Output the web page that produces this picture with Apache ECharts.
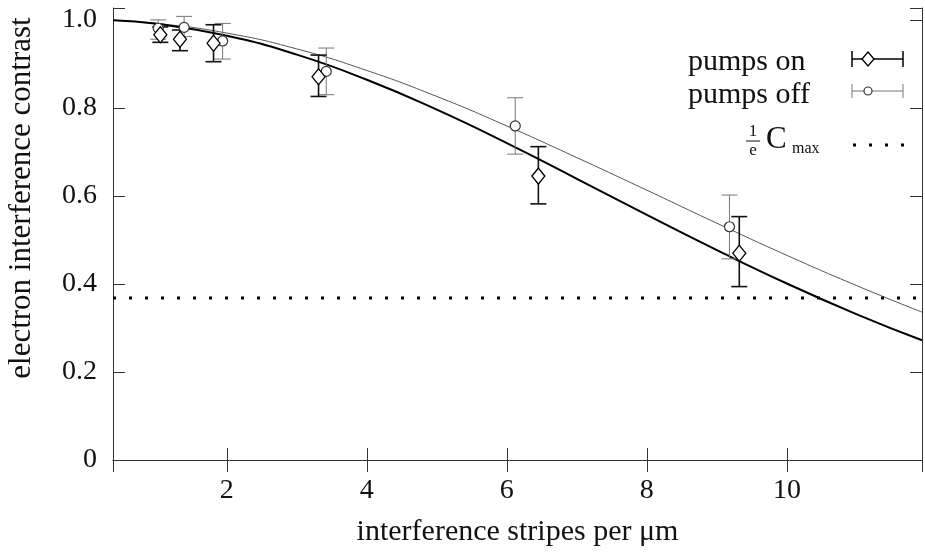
<!DOCTYPE html>
<html>
<head>
    <meta charset="utf-8">
    <title>Electron interference contrast</title>
    <script src="https://cdn.jsdelivr.net/npm/echarts@6.0.0/dist/echarts.min.js"></script>
    <style>
        html, body { margin: 0; padding: 0; background: #fff; }
        #main { width: 925px; height: 552px; }
    </style>
</head>
<body>
    <div id="main"></div>
    <script>
        // measured points, pumps on (diamonds)
        var onX = [1.05, 1.33, 1.81, 3.31, 6.45, 9.32];
        var onY = [0.966, 0.956, 0.947, 0.871, 0.645, 0.470];
        var onLow = [0.949, 0.930, 0.905, 0.826, 0.582, 0.394];
        var onHigh = [0.984, 0.977, 0.989, 0.920, 0.712, 0.553];

        // measured points, pumps off (circles)
        var offX = [1.02, 1.39, 1.94, 3.42, 6.12, 9.18];
        var offY = [0.981, 0.983, 0.952, 0.883, 0.759, 0.530];
        var offLow = [0.956, 0.962, 0.911, 0.830, 0.695, 0.457];
        var offHigh = [1.000, 1.008, 0.992, 0.936, 0.823, 0.602];

        // fitted curves
        var fitX = [0.374, 1, 2, 3, 4, 5, 6, 7, 8, 9, 10, 11, 11.93];
        var fitOn = [0.999, 0.991, 0.964, 0.921, 0.864, 0.796, 0.720, 0.639, 0.557, 0.477, 0.401, 0.331, 0.272];
        var fitOff = [0.999, 0.992, 0.970, 0.934, 0.885, 0.826, 0.759, 0.687, 0.613, 0.538, 0.465, 0.396, 0.336];

        var cMaxLevel = 0.368;
        var xMin = 0.374, xMax = 11.93;
        var yMin = 0, yMax = 1.027;

        var font = 'Liberation Serif';

        function zip(xs, ys) {
            return xs.map(function (x, i) { return [x, ys[i]]; });
        }
        function bars(xs, lo, hi) {
            return xs.map(function (x, i) { return [x, lo[i], hi[i]]; });
        }

        function errorBars(color, width) {
            return function (params, api) {
                var x = api.value(0);
                var lo = api.coord([x, api.value(1)]);
                var hi = api.coord([x, api.value(2)]);
                var w = 8;
                var style = { stroke: color, lineWidth: width };
                return {
                    type: 'group',
                    children: [
                        { type: 'line', shape: { x1: hi[0], y1: hi[1], x2: lo[0], y2: lo[1] }, style: style },
                        { type: 'line', shape: { x1: hi[0] - w, y1: hi[1], x2: hi[0] + w, y2: hi[1] }, style: style },
                        { type: 'line', shape: { x1: lo[0] - w, y1: lo[1], x2: lo[0] + w, y2: lo[1] }, style: style }
                    ]
                };
            };
        }

        var axisLine = { show: true, lineStyle: { color: '#333', width: 1 } };
        var tick = { show: true, inside: true, length: 12, lineStyle: { color: '#333', width: 1 } };

        var myChart = echarts.init(document.getElementById('main'));

        var option = {
            animation: false,
            backgroundColor: '#fff',
            grid: { left: 113, right: 2, top: 8, bottom: 92 },
            xAxis: [{
                type: 'value',
                min: xMin,
                max: xMax,
                minInterval: 2,
                maxInterval: 2,
                name: 'interference stripes per μm',
                nameLocation: 'middle',
                nameGap: 57,
                nameTextStyle: { fontFamily: font, fontSize: 30, color: '#111' },
                axisLine: axisLine,
                axisTick: tick,
                splitLine: { show: false },
                axisLabel: {
                    margin: 17,
                    fontFamily: font,
                    fontSize: 28,
                    color: '#111',
                    formatter: function (v) {
                        return Math.abs(v / 2 - Math.round(v / 2)) < 1e-6 ? String(Math.round(v)) : '';
                    }
                }
            }, {
                type: 'value',
                position: 'top',
                min: xMin,
                max: xMax,
                minInterval: 2,
                maxInterval: 2,
                axisLine: axisLine,
                axisTick: tick,
                splitLine: { show: false },
                axisLabel: { show: false }
            }],
            yAxis: [{
                type: 'value',
                min: yMin,
                max: yMax,
                interval: 0.2,
                axisLine: axisLine,
                axisTick: tick,
                splitLine: { show: false },
                axisLabel: {
                    margin: 16,
                    fontFamily: font,
                    fontSize: 28,
                    color: '#111',
                    formatter: function (v) {
                        if (Math.abs(v * 5 - Math.round(v * 5)) > 1e-6) return '';
                        return v === 0 ? '0' : v.toFixed(1);
                    }
                }
            }, {
                type: 'value',
                position: 'right',
                min: yMin,
                max: yMax,
                interval: 0.2,
                axisLine: axisLine,
                axisTick: tick,
                splitLine: { show: false },
                axisLabel: { show: false }
            }],
            graphic: [
                {
                    type: 'text', x: 22, y: 198, rotation: Math.PI / 2,
                    style: { text: 'electron interference contrast', font: '31px "' + font + '"', fill: '#111', align: 'center', verticalAlign: 'middle' }
                },
                // legend
                { type: 'text', x: 688, y: 62, style: { text: 'pumps on', font: '30px "' + font + '"', fill: '#111', verticalAlign: 'middle' } },
                { type: 'text', x: 688, y: 95, style: { text: 'pumps off', font: '30px "' + font + '"', fill: '#111', verticalAlign: 'middle' } },
                { type: 'line', shape: { x1: 852, y1: 59, x2: 903, y2: 59 }, style: { stroke: '#000', lineWidth: 1.5 } },
                { type: 'line', shape: { x1: 852, y1: 51, x2: 852, y2: 67 }, style: { stroke: '#000', lineWidth: 1.5 } },
                { type: 'line', shape: { x1: 903, y1: 51, x2: 903, y2: 67 }, style: { stroke: '#000', lineWidth: 1.5 } },
                { type: 'polygon', shape: { points: [[868, 52], [874, 59], [868, 66], [862, 59]] }, style: { fill: '#fff', stroke: '#000', lineWidth: 1.3 } },
                { type: 'line', shape: { x1: 852, y1: 91, x2: 903, y2: 91 }, style: { stroke: '#777', lineWidth: 1 } },
                { type: 'line', shape: { x1: 852, y1: 84, x2: 852, y2: 98 }, style: { stroke: '#777', lineWidth: 1 } },
                { type: 'line', shape: { x1: 903, y1: 84, x2: 903, y2: 98 }, style: { stroke: '#777', lineWidth: 1 } },
                { type: 'circle', shape: { cx: 868, cy: 91, r: 4 }, style: { fill: '#fff', stroke: '#333', lineWidth: 1.2 } },
                { type: 'text', x: 753, y: 132, style: { text: '1', font: '17px "' + font + '"', fill: '#111', align: 'center', verticalAlign: 'middle' } },
                { type: 'line', shape: { x1: 746, y1: 141, x2: 760, y2: 141 }, style: { stroke: '#111', lineWidth: 1 } },
                { type: 'text', x: 753, y: 151, style: { text: 'e', font: '17px "' + font + '"', fill: '#111', align: 'center', verticalAlign: 'middle' } },
                { type: 'text', x: 766, y: 140, style: { text: 'C', font: '31px "' + font + '"', fill: '#111', verticalAlign: 'middle' } },
                { type: 'text', x: 792, y: 149, style: { text: 'max', font: '16px "' + font + '"', fill: '#111', verticalAlign: 'middle' } },
                { type: 'line', shape: { x1: 853, y1: 145, x2: 905, y2: 145 }, style: { stroke: '#000', lineWidth: 3, lineDash: [3, 13] } }
            ],
            series: [
                {
                    name: 'fit pumps off',
                    type: 'line',
                    smooth: true,
                    showSymbol: false,
                    data: zip(fitX, fitOff),
                    lineStyle: { color: '#555', width: 1 },
                    z: 2
                },
                {
                    name: 'fit pumps on',
                    type: 'line',
                    smooth: true,
                    showSymbol: false,
                    data: zip(fitX, fitOn),
                    lineStyle: { color: '#000', width: 2 },
                    z: 2
                },
                {
                    name: 'C max / e',
                    type: 'line',
                    showSymbol: false,
                    data: [[xMin, cMaxLevel], [xMax, cMaxLevel]],
                    lineStyle: { color: '#000', width: 3, type: [3, 13] },
                    z: 2
                },
                {
                    name: 'pumps off bars',
                    type: 'custom',
                    renderItem: errorBars('#777', 1),
                    data: bars(offX, offLow, offHigh),
                    z: 3
                },
                {
                    name: 'pumps on bars',
                    type: 'custom',
                    renderItem: errorBars('#111', 1.6),
                    data: bars(onX, onLow, onHigh),
                    z: 3
                },
                {
                    name: 'pumps off',
                    type: 'scatter',
                    symbol: 'circle',
                    symbolSize: 10,
                    data: zip(offX, offY),
                    itemStyle: { color: '#fff', borderColor: '#333', borderWidth: 1.2, opacity: 1 },
                    z: 4
                },
                {
                    name: 'pumps on',
                    type: 'scatter',
                    symbol: 'diamond',
                    symbolSize: [13, 16],
                    data: zip(onX, onY),
                    itemStyle: { color: '#fff', borderColor: '#000', borderWidth: 1.3, opacity: 1 },
                    z: 4
                }
            ]
        };

        myChart.setOption(option);
    </script>
</body>
</html>
